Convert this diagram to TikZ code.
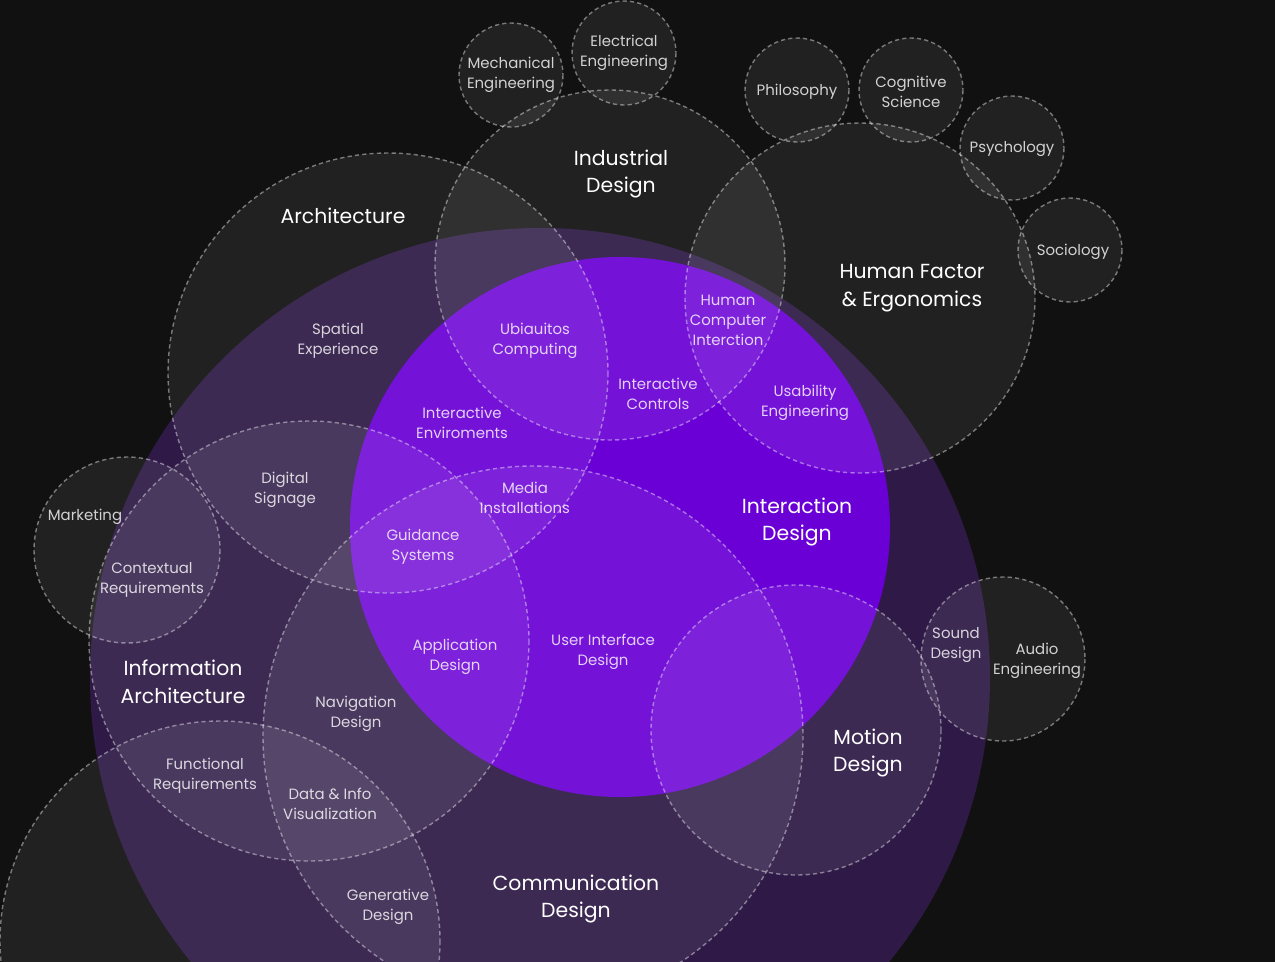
\documentclass[tikz,border=0pt]{standalone}
\usepackage{fontspec}
\setmainfont{Poppins}
\usepackage{tikz}
\definecolor{nightbg}{HTML}{111111}
\definecolor{uxpurple}{HTML}{2F1A47}
\definecolor{ixviolet}{HTML}{6A00D6}

\begin{document}
\begin{tikzpicture}[
  x=0.02cm, y=-0.02cm,
  field/.style={fill=white,fill opacity=0.07,draw=white,draw opacity=0.42,line width=0.8pt,dash pattern=on 2.4pt off 1.8pt},
  head/.style={text=white,align=center,font=\fontsize{11.6}{15.8}\selectfont},
  sub/.style={text=white,text opacity=0.8,align=center,font=\fontsize{8.5}{11.3}\selectfont}
]
\useasboundingbox (0,0) rectangle (1275,961);
\fill[nightbg] (-2,-2) rectangle (1277,963);
\begin{scope}
\clip (-2,-2) rectangle (1277,963);
% base discs
\fill[uxpurple] (540,678) circle (450);
\fill[ixviolet] (620,527) circle (270);
% dashed fields
\path[field] (388,373) circle (220);
\path[field] (610,265) circle (175);
\path[field] (860,298) circle (175);
\path[field] (309,641) circle (220);
\path[field] (533,736) circle (270);
\path[field] (220,941) circle (220);
\path[field] (796,730) circle (145);
\path[field] (127,550) circle (93);
\path[field] (1003,659) circle (82);
% outer disciplines
\path[field] (511,75) circle (52);
\path[field] (624,53) circle (52);
\path[field] (797,90) circle (52);
\path[field] (911,90) circle (52);
\path[field] (1012,148) circle (52);
\path[field] (1070,250) circle (52);
\end{scope}

% main fields
\node[head] (industrial) at (621,174) {Industrial\\Design};
\node[head] (architecture) at (343,216) {Architecture};
\node[head] (humanfactor) at (912,288) {Human Factor\\\& Ergonomics};
\node[head] (interaction) at (797,522) {Interaction\\Design};
\node[head] (infoarch) at (183,682) {Information\\Architecture};
\node[head] (motion) at (868,753) {Motion\\Design};
\node[head] (communication) at (576,899) {Communication\\Design};

% outer disciplines
\node[sub] (mechanical) at (511,75) {Mechanical\\Engineering};
\node[sub] (electrical) at (624,53) {Electrical\\Engineering};
\node[sub] (philosophy) at (797,92) {Philosophy};
\node[sub] (cognitive) at (911,92) {Cognitive\\Science};
\node[sub] (psychology) at (1012,149) {Psychology};
\node[sub] (sociology) at (1073,252) {Sociology};
\node[sub] (marketing) at (85,517) {Marketing};
\node[sub] (audio) at (1037,661) {Audio\\Engineering};

% overlaps
\node[sub] (spatial) at (338,341) {Spatial\\Experience};
\node[sub] (ubiquitous) at (535,341) {Ubiauitos\\Computing};
\node[sub] (hci) at (728,320) {Human\\Computer\\Interction};
\node[sub] (controls) at (658,394) {Interactive\\Controls};
\node[sub] (usability) at (805,403) {Usability\\Engineering};
\node[sub] (environments) at (462,423) {Interactive\\Enviroments};
\node[sub] (media) at (525,498) {Media\\Installations};
\node[sub] (signage) at (285,490) {Digital\\Signage};
\node[sub] (guidance) at (423,547) {Guidance\\Systems};
\node[sub] (contextual) at (152,580) {Contextual\\Requirements};
\node[sub] (application) at (455,657) {Application\\Design};
\node[sub] (userinterface) at (603,652) {User Interface\\Design};
\node[sub] (sound) at (956,645) {Sound\\Design};
\node[sub] (navigation) at (356,714) {Navigation\\Design};
\node[sub] (functional) at (205,776) {Functional\\Requirements};
\node[sub] (datavis) at (330,804) {Data \& Info\\Visualization};
\node[sub] (generative) at (388,907) {Generative\\Design};
\end{tikzpicture}
\end{document}
